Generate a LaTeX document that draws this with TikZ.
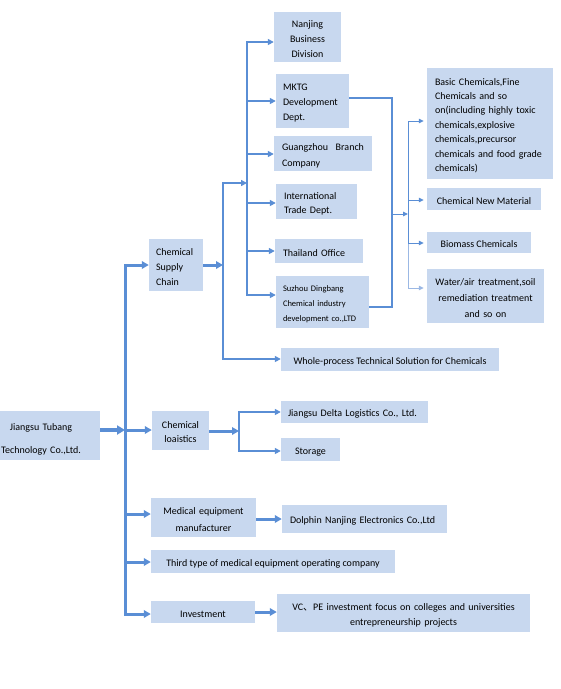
\documentclass[tikz,border=0pt]{standalone}
\usepackage{fontspec}
\setmainfont{Carlito}
\newfontfamily\cjk{Noto Sans CJK SC}
\usetikzlibrary{arrows.meta}
\definecolor{boxc}{HTML}{C8D8EF}
\definecolor{lc}{HTML}{5A8ED5}
\definecolor{lcl}{HTML}{9BB8E4}
\frenchspacing
\begin{document}
\begin{tikzpicture}[x=1pt,y=-1pt,
 bx/.style={fill=boxc, inner xsep=0pt, inner ysep=0pt, align=center, text height=11pt, font=\frenchspacing\fontsize{10}{#1}\selectfont},
 lbx/.style={bx=#1, align=left},
 trk/.style={draw=lc, line width=3pt, line cap=rect},
 a3/.style={draw=lc, line width=3pt, -{Triangle[length=7pt,width=7.5pt]}},
 a4/.style={draw=lc, line width=4pt, -{Triangle[length=8pt,width=9pt]}},
 l2/.style={draw=lc, line width=2pt, line cap=rect},
 a2/.style={draw=lc, line width=2pt, -{Triangle[length=6pt,width=6pt]}},
 l1/.style={draw=lc, line width=1.2pt},
 a1/.style={draw=lc, line width=1pt, -{Triangle[length=5pt,width=4.5pt]}, shorten >=3pt},
]
\useasboundingbox (0,0) rectangle (561,689);

% boxes
\node[bx=23, text height=15pt, text width=118, minimum height=49] (tubang) at (41,435.5) {Jiangsu Tubang\\Technology Co.,Ltd.};
\node[lbx=15, text width=40, inner xsep=7, minimum height=52] (csc) at (176,265) {Chemical\\Supply\\Chain};
\node[bx=14, text width=57, minimum height=39] (logi) at (180.5,430.5) {Chemical\\loaistics};
\node[bx=17, text width=105, minimum height=39] (med) at (203.5,517.5) {Medical equipment\\manufacturer};
\node[bx=12, minimum width=244, minimum height=23] (third) at (273,561.5) {Third type of medical equipment operating company};
\node[bx=12, minimum width=104, minimum height=22] (invest) at (203,612) {Investment};

\node[bx=15, text width=67, minimum height=50] (nanjing) at (307.5,37) {Nanjing\\Business\\Division};
\node[lbx=15, text width=59, inner xsep=7, minimum height=54] (mktg) at (312.5,101) {MKTG\\Development\\Dept.};
\node[lbx=16, text width=82, inner xsep=8, minimum height=35] (gz) at (323,153.5) {Guangzhou\hfill Branch\\Company};
\node[lbx=14, text width=65, inner xsep=8, minimum height=35] (intl) at (316.5,201.5) {International\\Trade Dept.};
\node[lbx=12, text width=72, inner xsep=8, minimum height=24] (thai) at (319,251) {Thailand Office};
\node[lbx=15, text width=79, inner xsep=7, minimum height=52, font=\fontsize{8.5}{15}\selectfont] (suzhou) at (322.5,302) {Suzhou Dingbang\\Chemical industry\\development co.,LTD};
\node[bx=12, minimum width=218, minimum height=23] (whole) at (390,359.5) {Whole-process Technical Solution for Chemicals};

\node[lbx=14.4, text width=110, inner xsep=8, minimum height=111] (basic) at (490,123.5) {Basic Chemicals,Fine\\Chemicals and so\\on(including highly toxic\\chemicals,explosive\\chemicals,precursor\\chemicals and food grade\\chemicals)};
\node[bx=12, minimum width=114, minimum height=22] (newmat) at (484,199) {Chemical New Material};
\node[bx=12, minimum width=104, minimum height=21] (bio) at (479,242.5) {Biomass Chemicals};
\node[bx=16, text width=117, minimum height=54] (water) at (485.5,296) {Water/air treatment,soil\\remediation treatment\\and so on};

\node[lbx=12, text width=133, inner xsep=7, minimum height=22] (delta) at (354.5,412) {Jiangsu Delta Logistics Co., Ltd.};
\node[bx=12, minimum width=59, minimum height=23] (storage) at (310.5,449.5) {Storage};
\node[lbx=12, text width=149, inner xsep=8, minimum height=28] (dolphin) at (364.5,519) {Dolphin Nanjing Electronics Co.,Ltd};
\node[bx=15, text width=253, minimum height=38] (vc) at (403.5,613) {VC{\cjk 、}PE investment focus on colleges and universities\\entrepreneurship projects};

% trunk
\coordinate (ttop) at (125,265);
\coordinate (tj) at (125,430);
\coordinate (tm) at (125,514);
\coordinate (tt) at (125,562);
\coordinate (tbot) at (125,614);
\draw[trk] (ttop) -- (tbot);
\draw[a4] (tubang.east |- tj) -- (tj);
\draw[a3] (ttop) -- (csc.west);
\draw[a3] (tj) -- (tj -| logi.west);
\draw[a3] (tm) -- (tm -| med.west);
\draw[a3] (tt) -- (tt -| third.west);
\draw[a3] (tbot) -- (tbot -| invest.west);

% chemical supply chain
\coordinate (c1) at (223,265);
\coordinate (ctop) at (223,183);
\coordinate (cbot) at (223,359);
\draw[a3] (csc.east) -- (c1);
\draw[l2] (ctop) -- (cbot);
\coordinate (v1) at (247,183);
\draw[a2] (ctop) -- (v1);
\coordinate (vtop) at (247,42);
\coordinate (v2) at (247,101);
\coordinate (v3) at (247,154);
\coordinate (v4) at (247,203);
\coordinate (v5) at (247,251);
\coordinate (vbot) at (247,295);
\draw[l2] (vtop) -- (vbot);
\draw[a2] (vtop) -- (vtop -| nanjing.west);
\draw[a2] (v2) -- (v2 -| mktg.west);
\draw[a2] (v3) -- (v3 -| gz.west);
\draw[a2] (v4) -- (v4 -| intl.west);
\draw[a2] (v5) -- (v5 -| thai.west);
\draw[a2] (vbot) -- (vbot -| suzhou.west);
\draw[a2] (cbot) -- (cbot -| whole.west);

% products bracket
\coordinate (m1) at (392,98);
\coordinate (m2) at (392,307);
\coordinate (mm) at (392,214);
\draw[l1] (mktg.east |- m1) -- (m1) -- (m2) -- (m2 -| suzhou.east);
\coordinate (r0) at (408,214);
\draw[a1, shorten >=0pt] (mm) -- (r0);
\coordinate (rtop) at (408,121);
\coordinate (r2) at (408,200);
\coordinate (r3) at (408,243);
\coordinate (rbot) at (408,288);
\draw[lc, line width=1pt] (rtop) -- (r3);
\draw[lcl, line width=1pt] (r3) -- (rbot);
\draw[a1] (rtop) -- (rtop -| basic.west);
\draw[a1] (r2) -- (r2 -| newmat.west);
\draw[a1] (r3) -- (r3 -| bio.west);
\draw[a1, draw=lcl] (rbot) -- (rbot -| water.west);

% logistics
\coordinate (g1) at (239,431);
\coordinate (gtop) at (239,412);
\coordinate (gbot) at (239,451);
\draw[a3] (logi.east |- g1) -- (g1);
\draw[l2, line width=2.5pt] (gtop) -- (gbot);
\draw[a2, line width=2.5pt] (gtop) -- (gtop -| delta.west);
\draw[a2, line width=2.5pt] (gbot) -- (gbot -| storage.west);

% medical, investment
\draw[a3] (dolphin.west -| med.east) -- (dolphin.west);
\draw[a3] (invest.east) -- (invest.east -| vc.west);
\end{tikzpicture}
\end{document}
